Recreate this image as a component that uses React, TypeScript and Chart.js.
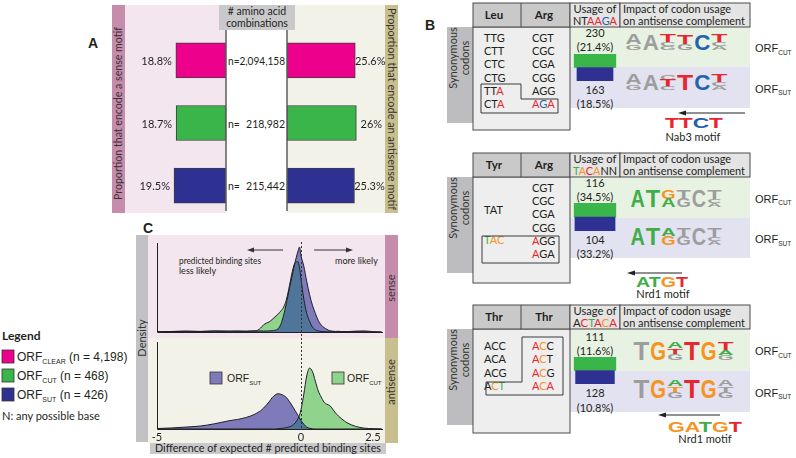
import React, { useEffect, useRef } from "react";
import { Chart, registerables } from "chart.js";

Chart.register(...registerables);

const FONT = "Lato, 'Open Sans', sans-serif";
const HELV = "'Liberation Sans', Arial, sans-serif";
const INK = "#231f20";

// ---------------- Panel A data ----------------
const groups = ["ORF_CLEAR", "ORF_CUT", "ORF_SUT"];
const senseShare = [18.8, 18.7, 19.5];
const antisenseShare = [25.6, 26, 25.3];
const comboCounts = ["2,094,158", "218,982", "215,442"];
const groupColors = ["#ec008c", "#39b54a", "#2e3192"];
const legendCounts = ["4,198", "468", "426"];
const legendSubs = ["CLEAR", "CUT", "SUT"];

// ---------------- Panel B data ----------------
const usageCounts = [
  [230, 163],
  [116, 104],
  [111, 128],
];
const usagePct = [
  [21.4, 18.5],
  [34.5, 33.2],
  [11.6, 10.8],
];

// ---------------- Panel C data ----------------
const diffX = [-5, -4.5, -4, -3.5, -3, -2.5, -2.2, -1.9, -1.6, -1.5, -1.4, -1.3, -1.2, -1.1, -1.0, -0.9, -0.8, -0.7, -0.6, -0.5, -0.4, -0.3, -0.2, -0.1, -0.05, 0, 0.1, 0.2, 0.3, 0.4, 0.5, 0.6, 0.7, 0.8, 0.9, 1.0, 1.1, 1.2, 1.3, 1.4, 1.5, 1.6, 1.9, 2.2, 2.5, 2.8];
const senseSUT = [0.002, 0.006, 0.01, 0.006, 0.012, 0.008, 0.012, 0.006, 0.012, 0.01, 0.012, 0.01, 0.012, 0.012, 0.015, 0.02, 0.035, 0.085, 0.19, 0.33, 0.49, 0.64, 0.79, 0.91, 0.955, 0.86, 0.74, 0.57, 0.42, 0.3, 0.21, 0.13, 0.08, 0.05, 0.03, 0.015, 0.01, 0.006, 0.008, 0.005, 0.006, 0.004, 0.01, 0.012, 0.004, 0];
const senseCUT = [0.003, 0.005, 0.008, 0.006, 0.01, 0.01, 0.008, 0.01, 0.012, 0.02, 0.045, 0.08, 0.1, 0.115, 0.14, 0.17, 0.2, 0.235, 0.28, 0.37, 0.52, 0.68, 0.78, 0.79, 0.72, 0.6, 0.37, 0.21, 0.12, 0.055, 0.025, 0.012, 0.006, 0.004, 0.003, 0.003, 0.002, 0.002, 0.002, 0.002, 0.002, 0.002, 0.002, 0.002, 0.001, 0];
const antiSUT = [0.005, 0.012, 0.022, 0.034, 0.06, 0.095, 0.11, 0.133, 0.17, 0.19, 0.21, 0.24, 0.275, 0.315, 0.36, 0.39, 0.405, 0.4, 0.385, 0.36, 0.315, 0.265, 0.21, 0.155, 0.128, 0.1, 0.055, 0.022, 0.008, 0.002, 0, 0, 0, 0, 0, 0, 0, 0, 0, 0, 0, 0, 0, 0, 0, 0];
const antiCUT = [0, 0, 0, 0, 0, 0, 0, 0, 0, 0, 0, 0, 0, 0, 0, 0, 0.003, 0.006, 0.01, 0.016, 0.025, 0.04, 0.07, 0.12, 0.16, 0.22, 0.4, 0.61, 0.7, 0.66, 0.55, 0.44, 0.37, 0.31, 0.285, 0.27, 0.23, 0.185, 0.15, 0.12, 0.095, 0.072, 0.03, 0.01, 0.003, 0];
const diffTicks = [-5, 0, 2.5];

const C_PURPLE = "#7f7bba";
const C_GREEN = "#8fd38c";
const C_OVER = "#50759a";

const baseOptions = (padding: any, scales: any) => ({
  animation: false as const,
  responsive: false,
  devicePixelRatio: 1,
  events: [] as any[],
  layout: { padding },
  plugins: { legend: { display: false }, tooltip: { enabled: false } },
  scales,
});

function ChartCanvas({ x, y, w, h, make }: { x: number; y: number; w: number; h: number; make: () => any }) {
  const ref = useRef<HTMLCanvasElement>(null);
  useEffect(() => {
    const chart = new Chart(ref.current as HTMLCanvasElement, make());
    return () => chart.destroy();
  }, []);
  return (
    <canvas
      ref={ref}
      width={w}
      height={h}
      style={{ position: "absolute", left: x, top: y, width: w, height: h }}
    />
  );
}

// ---------- Panel A charts ----------
const barLabelPlugin = (side: "left" | "right") => ({
  id: "barLabels",
  afterDatasetsDraw(chart: any) {
    const ctx = chart.ctx;
    const xs = chart.scales.x;
    const x0 = xs.getPixelForValue(0);
    const area = chart.chartArea;
    ctx.save();
    ctx.strokeStyle = "#5c5c5c";
    ctx.lineWidth = 1.5;
    ctx.beginPath();
    ctx.moveTo(x0, area.top + 1);
    ctx.lineTo(x0, area.bottom - 6);
    ctx.stroke();
    ctx.font = `11px ${FONT}`;
    ctx.fillStyle = INK;
    ctx.textBaseline = "middle";
    const vals = chart.data.datasets[0].data;
    chart.getDatasetMeta(0).data.forEach((el: any, i: number) => {
      const t = `${vals[i]}%`;
      if (side === "left") {
        ctx.textAlign = "right";
        ctx.fillText(t, el.x - 4, el.y + 1);
      } else {
        ctx.textAlign = "center";
        ctx.fillText(t, el.x + 15, el.y + 1);
      }
    });
    ctx.restore();
  },
});

const makeShareChart = (values: number[], side: "left" | "right") => () => ({
  type: "bar",
  data: {
    labels: groups,
    datasets: [
      {
        data: values,
        backgroundColor: groupColors,
        borderColor: "#3d3d3d",
        borderWidth: 1,
        borderSkipped: false,
        barThickness: 35,
      },
    ],
  },
  options: {
    indexAxis: "y",
    ...baseOptions(
      side === "left" ? { left: 10, right: 4, top: 4, bottom: 4 } : { left: 4, right: 10, top: 4, bottom: 4 },
      {
        x: { display: false, min: 0, max: 36, reverse: side === "left" },
        y: { display: false },
      }
    ),
  },
  plugins: [barLabelPlugin(side)],
});

// ---------- Panel B charts ----------
const makeUsageChart = (b: number) => () => {
  const p = usagePct[b];
  const half = Math.max(...p) * 0.6;
  return {
    type: "bar",
    data: {
      labels: ["CUT", "SUT"],
      datasets: [
        {
          data: p.map((v) => [-v / 2, v / 2]),
          backgroundColor: ["#39b54a", "#2e3192"],
          borderWidth: 0,
          barPercentage: 1,
          categoryPercentage: 1,
        },
      ],
    },
    options: {
      indexAxis: "y",
      ...baseOptions({ left: 0, right: 0, top: 0, bottom: 0 }, {
        x: { display: false, min: -half, max: half },
        y: { display: false },
      }),
    },
  };
};

// ---------- Panel C charts ----------
const pts = (ys: number[]) => diffX.map((x, i) => ({ x, y: ys[i] }));

const densityPlugin = (kind: "sense" | "anti") => ({
  id: "densityAxes",
  afterDatasetsDraw(chart: any) {
    const ctx = chart.ctx;
    const a = chart.chartArea;
    const xs = chart.scales.x;
    ctx.save();
    ctx.strokeStyle = "#222";
    ctx.lineWidth = 1;
    ctx.beginPath();
    ctx.moveTo(a.left + 0.5, a.top);
    ctx.lineTo(a.left + 0.5, a.bottom + 0.5);
    ctx.lineTo(a.right - 2, a.bottom + 0.5);
    ctx.stroke();
    const x0 = Math.round(xs.getPixelForValue(0)) + 0.5;
    ctx.setLineDash([2, 2]);
    ctx.strokeStyle = "#333";
    ctx.beginPath();
    if (kind === "sense") {
      ctx.moveTo(x0, a.top - 1);
      ctx.lineTo(x0, chart.height);
    } else {
      ctx.moveTo(x0, 0);
      ctx.lineTo(x0, a.bottom);
    }
    ctx.stroke();
    ctx.setLineDash([]);
    if (kind === "anti") {
      ctx.font = `11px ${FONT}`;
      ctx.fillStyle = INK;
      ctx.textAlign = "center";
      ctx.textBaseline = "top";
      diffTicks.forEach((t) => {
        ctx.fillText(String(t), xs.getPixelForValue(t), a.bottom + 3);
      });
    }
    ctx.restore();
  },
});

const makeDensity = (sut: number[], cut: number[], kind: "sense" | "anti", pad: any) => () => {
  const over = sut.map((v, i) => Math.min(v, cut[i]));
  const line = (ys: number[]) => ({
    data: pts(ys),
    borderColor: "#1e1e28",
    borderWidth: 1,
    fill: false,
    pointRadius: 0,
    cubicInterpolationMode: "monotone",
  });
  const area = (ys: number[], color: string) => ({
    data: pts(ys),
    borderWidth: 0,
    borderColor: "rgba(0,0,0,0)",
    backgroundColor: color,
    fill: "origin",
    pointRadius: 0,
    cubicInterpolationMode: "monotone",
  });
  return {
    type: "line",
    data: {
      datasets: [line(sut), line(cut), area(over, C_OVER), area(cut, C_GREEN), area(sut, C_PURPLE)],
    },
    options: baseOptions(pad, {
      x: { type: "linear", display: false, min: -5, max: 2.92 },
      y: { display: false, min: 0, max: 1 },
    }),
    plugins: [densityPlugin(kind)],
  };
};

// ---------- SVG helpers ----------
const LC: Record<string, string> = {
  A: "#3fae49",
  T: "#e8262d",
  C: "#2363ae",
  G: "#f7941d",
  g: "#9d9d9d",
  k: INK,
};

type Stack = [string, string, number][];

function Logo({ x, y, w, h, cols }: { x: number; y: number; w: number; h: number; cols: Stack[] }) {
  const cw = w / cols.length;
  const cap = 14.3;
  const out: any[] = [];
  cols.forEach((stack, ci) => {
    let cy = y;
    stack.forEach(([ch, col, f], li) => {
      const lh = f * h;
      out.push(
        <text
          key={`${ci}-${li}`}
          x={0}
          y={0}
          fontFamily={HELV}
          fontWeight="bold"
          fontSize={20}
          fill={LC[col] || col}
          textLength={cw - 1}
          lengthAdjust="spacingAndGlyphs"
          transform={`translate(${x + ci * cw + 0.5},${cy + lh}) scale(1,${lh / cap})`}
        >
          {ch}
        </text>
      );
      cy += lh;
    });
  });
  return <g>{out}</g>;
}

function Seq({ x, y, letters, size, anchor = "start", len, weight = "normal", family = FONT }: any) {
  return (
    <text x={x} y={y} fontSize={size} fontFamily={family} fontWeight={weight} textAnchor={anchor} textLength={len} lengthAdjust={len ? "spacingAndGlyphs" : undefined}>
      {letters.map(([s, c]: [string, string], i: number) => (
        <tspan key={i} fill={LC[c] || c}>
          {s}
        </tspan>
      ))}
    </text>
  );
}

function OrfLabel({ x, y, sub, size = 11, subSize = 6.5, rest }: any) {
  return (
    <text x={x} y={y} fontFamily={HELV} fontSize={size} fill={INK}>
      ORF
      <tspan fontSize={subSize} dy={2.5}>
        {sub}
      </tspan>
      {rest ? (
        <tspan dy={-2.5} fontSize={size}>
          {rest}
        </tspan>
      ) : null}
    </text>
  );
}

type BlockDef = {
  dy: number;
  heads: [string, string];
  usageHead: [string, string][];
  left: { y: number; s: [string, string][] }[];
  right: { y: number; s: [string, string][] }[];
  box: string;
  bodyBottom: number;
  cut: Stack[];
  sut: Stack[];
  logoX: number;
  logoW: number;
  logoCutY: number;
  logoSutY: number;
  logoH: number;
  arrow: [number, number, number];
  motif: [string, string][];
  motifX: number;
  motifW: number;
  motifY: number;
  motifName: string;
  nameX: number;
  nameY: number;
  bandSplit: number;
  bandBottom: number;
  numY: [number, number, number, number];
};

const k = (s: string): [string, string] => [s, "k"];

const blocks: BlockDef[] = [
  {
    dy: 0,
    heads: ["Leu", "Arg"],
    usageHead: [k("NT"), ["AA", "T"], ["G", "C"], ["A", "T"]],
    left: [
      { y: 42, s: [k("TTG")] },
      { y: 55, s: [k("CTT")] },
      { y: 68, s: [k("CTC")] },
      { y: 82, s: [k("CTG")] },
      { y: 95, s: [k("TT"), ["A", "T"]] },
      { y: 108, s: [k("CT"), ["A", "T"]] },
    ],
    right: [
      { y: 42, s: [k("CGT")] },
      { y: 55, s: [k("CGC")] },
      { y: 68, s: [k("CGA")] },
      { y: 82, s: [k("CGG")] },
      { y: 95, s: [k("AGG")] },
      { y: 108, s: [["A", "T"], ["G", "C"], ["A", "T"]] },
    ],
    box: "M481,84 L521,84 L521,99 L558,99 L558,113 L481,113 Z",
    bodyBottom: 130,
    cut: [
      [["A", "g", 0.65], ["G", "g", 0.35]],
      [["A", "g", 1]],
      [["T", "T", 0.5], ["C", "g", 0.25], ["G", "g", 0.25]],
      [["T", "T", 0.6], ["G", "g", 0.4]],
      [["C", "C", 1]],
      [["T", "T", 0.5], ["C", "g", 0.25], ["A", "g", 0.25]],
    ],
    sut: [
      [["A", "g", 0.65], ["G", "g", 0.35]],
      [["A", "g", 1]],
      [["C", "g", 0.35], ["T", "T", 0.45], ["C", "g", 0.2]],
      [["T", "T", 1]],
      [["C", "C", 1]],
      [["T", "T", 0.5], ["C", "g", 0.25], ["A", "g", 0.25]],
    ],
    logoX: 625,
    logoW: 103,
    logoCutY: 34,
    logoSutY: 74,
    logoH: 16,
    arrow: [745, 678, 113],
    motif: [["TT", "T"], ["C", "C"], ["T", "T"]],
    motifX: 665,
    motifW: 58,
    motifY: 128,
    motifName: "Nab3 motif",
    nameX: 693,
    nameY: 141,
    bandSplit: 67,
    bandBottom: 108,
    numY: [37, 51, 94, 108],
  },
  {
    dy: 150,
    heads: ["Tyr", "Arg"],
    usageHead: [["T", "A"], ["A", "G"], ["C", "T"], ["A", "G"], k("NN")],
    left: [
      { y: 214, s: [k("TAT")] },
      { y: 244, s: [["T", "A"], ["AC", "G"]] },
    ],
    right: [
      { y: 192, s: [k("CGT")] },
      { y: 205, s: [k("CGC")] },
      { y: 218, s: [k("CGA")] },
      { y: 232, s: [k("CGG")] },
      { y: 245, s: [["A", "T"], k("GG")] },
      { y: 258, s: [["A", "T"], k("GA")] },
    ],
    box: "M482,236 L559,236 L559,263 L482,263 Z",
    bodyBottom: 283,
    cut: [
      [["A", "A", 1]],
      [["T", "A", 1]],
      [["G", "G", 0.5], ["A", "A", 0.5]],
      [["T", "g", 0.5], ["G", "g", 0.5]],
      [["C", "g", 1]],
      [["T", "g", 0.5], ["C", "g", 0.25], ["A", "g", 0.25]],
    ],
    sut: [
      [["A", "A", 1]],
      [["T", "A", 1]],
      [["A", "A", 0.45], ["G", "G", 0.55]],
      [["T", "g", 0.5], ["G", "g", 0.5]],
      [["C", "g", 1]],
      [["T", "g", 0.5], ["C", "g", 0.25], ["A", "g", 0.25]],
    ],
    logoX: 630,
    logoW: 92,
    logoCutY: 190,
    logoSutY: 228,
    logoH: 17,
    arrow: [682, 627, 273],
    motif: [["AT", "A"], ["G", "G"], ["T", "T"]],
    motifX: 636,
    motifW: 52,
    motifY: 287,
    motifName: "Nrd1 motif",
    nameX: 663,
    nameY: 298,
    bandSplit: 218,
    bandBottom: 258,
    numY: [187, 201, 244, 258],
  },
  {
    dy: 302,
    heads: ["Thr", "Thr"],
    usageHead: [k("A"), ["C", "T"], ["T", "A"], ["A", "T"], ["C", "G"], ["A", "T"]],
    left: [
      { y: 350, s: [k("ACC")] },
      { y: 363, s: [k("ACA")] },
      { y: 377, s: [k("ACG")] },
      { y: 390, s: [k("A"), ["C", "G"], ["T", "A"]] },
    ],
    right: [
      { y: 350, s: [["A", "T"], ["C", "G"], k("C")] },
      { y: 363, s: [["A", "T"], ["C", "G"], k("T")] },
      { y: 377, s: [["A", "T"], ["C", "G"], k("G")] },
      { y: 390, s: [["A", "T"], ["C", "G"], ["A", "T"]] },
    ],
    box: "M522,337 L563,337 L563,395 L486,395 L486,382 L522,382 Z",
    bodyBottom: 433,
    cut: [
      [["T", "g", 1]],
      [["G", "G", 1]],
      [["A", "A", 0.35], ["T", "T", 0.3], ["G", "g", 0.35]],
      [["T", "T", 1]],
      [["G", "G", 1]],
      [["T", "T", 0.45], ["A", "A", 0.25], ["G", "g", 0.3]],
    ],
    sut: [
      [["T", "g", 1]],
      [["G", "G", 1]],
      [["A", "A", 0.35], ["T", "G", 0.3], ["G", "g", 0.35]],
      [["T", "T", 1]],
      [["G", "G", 1]],
      [["A", "g", 0.35], ["T", "g", 0.3], ["G", "g", 0.35]],
    ],
    logoX: 633,
    logoW: 101,
    logoCutY: 342,
    logoSutY: 380,
    logoH: 18,
    arrow: [720, 658, 415],
    motif: [["GA", "G"], ["T", "A"], ["G", "G"], ["T", "T"]],
    motifX: 668,
    motifW: 74,
    motifY: 432,
    motifName: "Nrd1 motif",
    nameX: 705,
    nameY: 443,
    bandSplit: 371,
    bandBottom: 412,
    numY: [341, 355, 397, 412],
  },
];

function BlockSvg({ b, i }: { b: BlockDef; i: number }) {
  const d = b.dy;
  const hTop = 3 + d;
  const hBot = 27 + d;
  const bandTop = hBot;
  return (
    <g>
      {/* bands */}
      <rect x={570} y={bandTop} width={180} height={b.bandSplit - bandTop} fill="#e7f2e2" />
      <rect x={570} y={b.bandSplit} width={180} height={b.bandBottom - b.bandSplit} fill="#e3e2f0" />
      {/* synonymous codons strip */}
      <rect x={447} y={hBot} width={26} height={96} fill="#bdbdbf" />
      <text transform={`translate(457,${hBot + 31}) rotate(-90)`} textAnchor="middle" fontFamily={FONT} fontSize={11} fill="#333">
        Synonymous
      </text>
      <text transform={`translate(469,${hBot + 31}) rotate(-90)`} textAnchor="middle" fontFamily={FONT} fontSize={11} fill="#333">
        codons
      </text>
      {/* table */}
      <rect x={473} y={hBot} width={97} height={b.bodyBottom - hBot} fill="#eeeeee" stroke="#4a4a4a" strokeWidth={1} />
      <rect x={473} y={hTop} width={97} height={24} fill="#c9c9c9" stroke="#4a4a4a" strokeWidth={1} />
      <line x1={521} y1={hTop} x2={521} y2={hBot} stroke="#4a4a4a" strokeWidth={1} />
      <text x={494} y={hTop + 16} textAnchor="middle" fontFamily={FONT} fontWeight="bold" fontSize={11.5} fill={INK}>
        {b.heads[0]}
      </text>
      <text x={544} y={hTop + 16} textAnchor="middle" fontFamily={FONT} fontWeight="bold" fontSize={11.5} fill={INK}>
        {b.heads[1]}
      </text>
      <rect x={570} y={hTop} width={50} height={24} fill="#e4e4e4" stroke="#4a4a4a" strokeWidth={1} />
      <rect x={620} y={hTop} width={130} height={24} fill="#e4e4e4" stroke="#4a4a4a" strokeWidth={1} />
      <text x={595} y={hTop + 10} textAnchor="middle" fontFamily={FONT} fontSize={11} fill={INK} textLength={43} lengthAdjust="spacingAndGlyphs">
        Usage of
      </text>
      <Seq x={595} y={hTop + 22} anchor="middle" size={11} len={44} letters={b.usageHead} />
      <text x={623} y={hTop + 10} fontFamily={FONT} fontSize={11} fill={INK} textLength={108} lengthAdjust="spacingAndGlyphs">
        Impact of codon usage
      </text>
      <text x={623} y={hTop + 22} fontFamily={FONT} fontSize={11} fill={INK} textLength={122} lengthAdjust="spacingAndGlyphs">
        on antisense complement
      </text>
      {/* codons */}
      {b.left.map((r, j) => (
        <Seq key={`l${j}`} x={484} y={r.y} size={11} letters={r.s} />
      ))}
      {b.right.map((r, j) => (
        <Seq key={`r${j}`} x={532} y={r.y} size={11} letters={r.s} />
      ))}
      <path d={b.box} fill="none" stroke="#3a3a3a" strokeWidth={1} />
      {/* usage numbers */}
      <text x={595} y={b.numY[0]} textAnchor="middle" fontFamily={FONT} fontSize={11} fill={INK}>
        {usageCounts[i][0]}
      </text>
      <text x={595} y={b.numY[1]} textAnchor="middle" fontFamily={FONT} fontSize={11} fill={INK}>
        ({usagePct[i][0]}%)
      </text>
      <text x={595} y={b.numY[2]} textAnchor="middle" fontFamily={FONT} fontSize={11} fill={INK}>
        {usageCounts[i][1]}
      </text>
      <text x={595} y={b.numY[3]} textAnchor="middle" fontFamily={FONT} fontSize={11} fill={INK}>
        ({usagePct[i][1]}%)
      </text>
      {/* logos */}
      <Logo x={b.logoX} y={b.logoCutY} w={b.logoW} h={b.logoH} cols={b.cut} />
      <Logo x={b.logoX} y={b.logoSutY} w={b.logoW} h={b.logoH} cols={b.sut} />
      <OrfLabel x={755} y={(bandTop + b.bandSplit) / 2 + 5} sub="CUT" />
      <OrfLabel x={755} y={(b.bandSplit + b.bandBottom) / 2 + 5} sub="SUT" />
      {/* arrow & motif */}
      <line x1={b.arrow[0]} y1={b.arrow[2]} x2={b.arrow[1] + 6} y2={b.arrow[2]} stroke="#222" strokeWidth={1} />
      <path d={`M${b.arrow[1]},${b.arrow[2]} L${b.arrow[1] + 8},${b.arrow[2] - 2.5} L${b.arrow[1] + 8},${b.arrow[2] + 2.5} Z`} fill="#222" />
      <Seq x={b.motifX} y={b.motifY} size={15} family={HELV} weight="bold" len={b.motifW} letters={b.motif} />
      <text x={b.nameX} y={b.nameY} textAnchor="middle" fontFamily={FONT} fontSize={11} fill={INK}>
        {b.motifName}
      </text>
    </g>
  );
}

function Background() {
  const barY = [60.5, 123.5, 186];
  return (
    <svg width={796} height={458} style={{ position: "absolute", left: 0, top: 0 }}>
      <rect x={0} y={0} width={796} height={458} fill="#ffffff" />
      {/* ---------- Panel A ---------- */}
      <text x={88} y={48} fontFamily={HELV} fontWeight="bold" fontSize={14} fill={INK}>
        A
      </text>
      <rect x={112} y={5} width={13} height={208} fill="#c68cab" />
      <rect x={125} y={5} width={101} height={208} fill="#f3e6ef" />
      <rect x={287} y={5} width={98} height={208} fill="#f3f2e8" />
      <rect x={385} y={5} width={13} height={208} fill="#c9be8d" />
      <rect x={219} y={5} width={76} height={25} fill="#c9c9cb" />
      <text x={257} y={15} textAnchor="middle" fontFamily={FONT} fontSize={10.5} fill={INK}>
        # amino acid
      </text>
      <text x={257} y={27} textAnchor="middle" fontFamily={FONT} fontSize={10.5} fill={INK}>
        combinations
      </text>
      <text transform="translate(122,200) rotate(-90)" fontFamily={FONT} fontSize={10.5} fill="#333" textLength={173} lengthAdjust="spacingAndGlyphs">
        Proportion that encode a sense motif
      </text>
      <text transform="translate(388,8) rotate(90)" fontFamily={FONT} fontSize={10.5} fill="#333" textLength={202} lengthAdjust="spacingAndGlyphs">
        Proportion that encode an antisense motif
      </text>
      {comboCounts.map((c, i) =>
        i === 0 ? (
          <text key={i} x={228} y={barY[i] + 4} fontFamily={FONT} fontSize={10.5} fill={INK} textLength={57} lengthAdjust="spacingAndGlyphs">
            n={c}
          </text>
        ) : (
          <g key={i}>
            <text x={228} y={barY[i] + 4} fontFamily={FONT} fontSize={10.5} fill={INK}>
              n=
            </text>
            <text x={285} y={barY[i] + 4} textAnchor="end" fontFamily={FONT} fontSize={10.5} fill={INK}>
              {c}
            </text>
          </g>
        )
      )}
      {/* ---------- Legend ---------- */}
      <text x={2} y={340} fontFamily={FONT} fontWeight="bold" fontSize={12} fill={INK}>
        Legend
      </text>
      {groupColors.map((c, i) => (
        <g key={i}>
          <rect x={2} y={350 + i * 19} width={12} height={13} fill={c} stroke="#333" strokeWidth={0.8} />
          <OrfLabel x={17} y={361 + i * 19} sub={legendSubs[i]} size={12} subSize={7} rest={` (n = ${legendCounts[i]})`} />
        </g>
      ))}
      <text x={2} y={420} fontFamily={FONT} fontSize={11} fill={INK}>
        N: any possible base
      </text>
      {/* ---------- Panel C ---------- */}
      <text x={143} y={233} fontFamily={HELV} fontWeight="bold" fontSize={14} fill={INK}>
        C
      </text>
      <rect x={136} y={235} width={12} height={207} fill="#c2c2c4" />
      <text transform="translate(146,338) rotate(-90)" textAnchor="middle" fontFamily={FONT} fontSize={11} fill="#333">
        Density
      </text>
      <rect x={148} y={235} width={237} height={103} fill="#f3e6ef" />
      <rect x={385} y={235} width={13} height={103} fill="#c68cab" />
      <rect x={148} y={338} width={237} height={105} fill="#f3f2e8" />
      <rect x={385} y={338} width={13} height={105} fill="#c9be8d" />
      <text transform="translate(395,288) rotate(-90)" textAnchor="middle" fontFamily={FONT} fontSize={11} fill="#333">
        sense
      </text>
      <text transform="translate(395,382) rotate(-90)" textAnchor="middle" fontFamily={FONT} fontSize={11} fill="#333">
        antisense
      </text>
      <rect x={150} y={443} width={236} height={11} fill="#c9c9cb" />
      <text x={268} y={452} textAnchor="middle" fontFamily={FONT} fontSize={11} fill={INK} textLength={226} lengthAdjust="spacingAndGlyphs">
        Difference of expected # predicted binding sites
      </text>
      {/* annotations */}
      <line x1={283} y1={250} x2={252} y2={250} stroke="#333" strokeWidth={1} />
      <path d="M247,250 L254,247.5 L254,252.5 Z" fill="#333" />
      <line x1={314} y1={250} x2={348} y2={250} stroke="#333" strokeWidth={1} />
      <path d="M353,250 L346,247.5 L346,252.5 Z" fill="#333" />
      <text x={179} y={264} fontFamily={FONT} fontSize={9} fill={INK} textLength={82} lengthAdjust="spacingAndGlyphs">
        predicted binding sites
      </text>
      <text x={179} y={274} fontFamily={FONT} fontSize={9} fill={INK}>
        less likely
      </text>
      <text x={335} y={264} fontFamily={FONT} fontSize={9} fill={INK}>
        more likely
      </text>
      <rect x={210} y={372} width={12} height={12} fill={C_PURPLE} stroke="#333" strokeWidth={0.8} />
      <OrfLabel x={227} y={382} sub="SUT" size={10.5} subSize={6} />
      <rect x={332} y={372} width={12} height={12} fill={C_GREEN} stroke="#333" strokeWidth={0.8} />
      <OrfLabel x={347} y={382} sub="CUT" size={10.5} subSize={6} />
      {/* ---------- Panel B ---------- */}
      <text x={425} y={30} fontFamily={HELV} fontWeight="bold" fontSize={14} fill={INK}>
        B
      </text>
      {blocks.map((b, i) => (
        <BlockSvg key={i} b={b} i={i} />
      ))}
    </svg>
  );
}

export default function App() {
  const usageTops = [54, 203, 357];
  const usageH = [27, 28, 27];
  return (
    <div style={{ position: "fixed", left: 0, top: 0, width: 796, height: 458, background: "#fff", overflow: "hidden" }}>
      <Background />
      <ChartCanvas x={120} y={25} w={110} h={196} make={makeShareChart(senseShare, "left")} />
      <ChartCanvas x={283} y={25} w={110} h={196} make={makeShareChart(antisenseShare, "right")} />
      {usageTops.map((t, b) => (
        <ChartCanvas key={b} x={570} y={t} w={50} h={usageH[b]} make={makeUsageChart(b)} />
      ))}
      <ChartCanvas
        x={150}
        y={236}
        w={240}
        h={102}
        make={makeDensity(senseSUT, senseCUT, "sense", { left: 7, right: 5, top: 7, bottom: 6 })}
      />
      <ChartCanvas
        x={150}
        y={338}
        w={240}
        h={106}
        make={makeDensity(antiSUT, antiCUT, "anti", { left: 7, right: 5, top: 4, bottom: 15 })}
      />
    </div>
  );
}
